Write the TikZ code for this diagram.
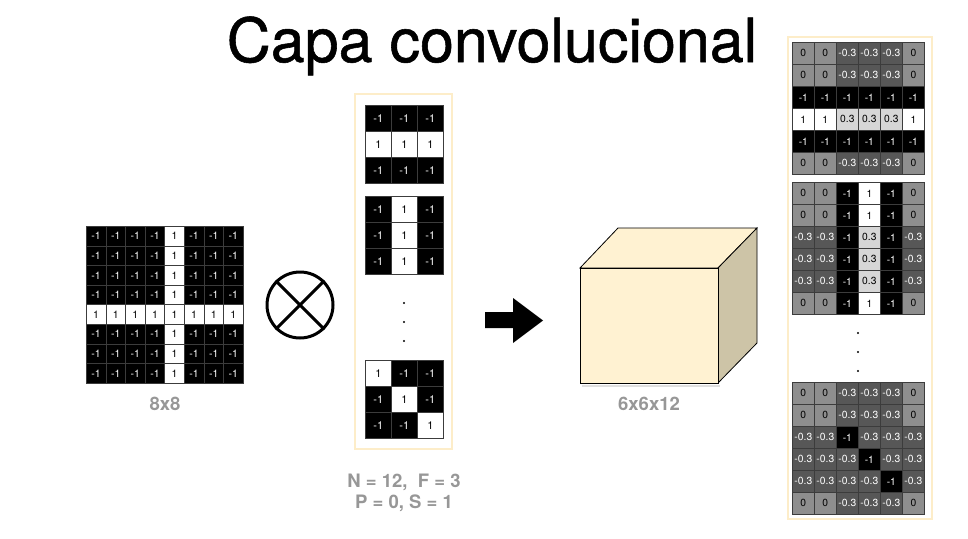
\documentclass[tikz,border=0pt]{standalone}
\usepackage{fontspec}
\setmainfont{TeX Gyre Heros}
\newfontfamily\titlefont[FakeBold=0.9]{TeX Gyre Heros}
\definecolor{boxc}{HTML}{FDEDC9}
\definecolor{gz}{HTML}{8E8E8E}
\definecolor{gm}{HTML}{575757}
\definecolor{gl}{HTML}{D6D6D6}
\definecolor{cubefront}{HTML}{FFF2D2}
\definecolor{cubeside}{HTML}{CDC4A7}
\definecolor{lblgray}{HTML}{979797}
\definecolor{gridline}{HTML}{3C3C3C}
\def\labk{-1}\def\labw{1}\def\labz{0}\def\labm{-0.3}\def\labl{0.3}
\tikzset{
  cellk/.style={fill=black,text=white},
  cellw/.style={fill=white,text=black},
  cellz/.style={fill=gz,text=black},
  cellm/.style={fill=gm,text=white},
  celll/.style={fill=gl,text=black},
  cellbase/.style={draw=gridline,line width=0.7pt,inner sep=0pt,anchor=north west},
  holder/.style={draw=boxc,line width=2.5pt},
  lbl/.style={text=lblgray,font=\fontsize{18.5}{22}\selectfont\bfseries},
  dotmark/.style={fill=black,draw=none,circle,inner sep=0pt,minimum size=2.4pt},
}
\newcommand\mygrid[6]{%
  \foreach \row [count=\r from 0] in {#6} {%
    \foreach \v [count=\c from 0] in \row {%
      \node[cellbase,cell\v,minimum width=#4pt,minimum height=#4pt,
            font=\fontsize{#5}{#5}\selectfont] (#1-\r-\c) at ({#2+\c*#4},{#3+\r*#4}) {\csname lab\v\endcsname};
    }%
  }%
}
\begin{document}
\begin{tikzpicture}[x=1pt,y=-1pt]
\useasboundingbox[fill=white] (0,0) rectangle (968,538);
% title
\node[anchor=base,font=\fontsize{61}{61}\titlefont] (title) at (492,62) {Capa convolucional};
% input 8x8
\mygrid{in}{86}{226}{19.6}{10.5}{{k,k,k,k,w,k,k,k},{k,k,k,k,w,k,k,k},{k,k,k,k,w,k,k,k},{k,k,k,k,w,k,k,k},{w,w,w,w,w,w,w,w},{k,k,k,k,w,k,k,k},{k,k,k,k,w,k,k,k},{k,k,k,k,w,k,k,k}}
\node[lbl] (inlbl) at (165,404) {8x8};
% otimes
\node[draw,circle,line width=3pt,minimum size=66pt,inner sep=0pt] (otimes) at (300,305) {};
\draw[line width=3pt] (otimes.north west) -- (otimes.south east);
\draw[line width=3pt] (otimes.north east) -- (otimes.south west);
% filters
\draw[holder] (355,94) rectangle (452,449);
\mygrid{fa}{365}{105}{26}{11}{{k,k,k},{w,w,w},{k,k,k}}
\mygrid{fb}{365}{196}{26}{11}{{k,w,k},{k,w,k},{k,w,k}}
\mygrid{fc}{365}{360}{26}{11}{{w,k,k},{k,w,k},{k,k,w}}
\node[dotmark] (fd1) at (404,303) {};
\node[dotmark] (fd2) at (404,322) {};
\node[dotmark] (fd3) at (404,341) {};
\node[lbl,align=center] (params) at (404,493) {N = 12,\ \ F = 3\\[-1pt]P = 0, S = 1};
% arrow
\fill[black] (485,312) -- (513,312) -- (513,298) -- (543,320.5) -- (513,343) -- (513,328) -- (485,328) -- cycle;
% cube
\fill[gray!25] (582,385) rectangle (720,387);
\draw[fill=cubefront,line width=0.8pt] (580,268) -- (618,228) -- (757,228) -- (718,268) -- cycle;
\draw[fill=cubeside,line width=0.8pt] (718,268) -- (757,228) -- (757,343) -- (718,383) -- cycle;
\draw[fill=cubefront,line width=0.8pt] (580,268) rectangle (718,383);
\node[lbl] (cubelbl) at (649,404) {6x6x12};
% outputs
\draw[holder] (788,37) rectangle (932,519);
\mygrid{oa}{792}{42}{22}{10.3}{{z,z,m,m,m,z},{z,z,m,m,m,z},{k,k,k,k,k,k},{w,w,l,l,l,w},{k,k,k,k,k,k},{z,z,m,m,m,z}}
\mygrid{ob}{792}{182}{22}{10.3}{{z,z,k,w,k,z},{z,z,k,w,k,z},{m,m,k,l,k,m},{m,m,k,l,k,m},{m,m,k,l,k,m},{z,z,k,w,k,z}}
\mygrid{oc}{792}{382}{22}{10.3}{{z,z,m,m,m,z},{z,z,m,m,m,z},{m,m,k,m,m,m},{m,m,m,k,m,m},{m,m,m,m,k,m},{z,z,m,m,m,z}}
\node[dotmark] (od1) at (858,333) {};
\node[dotmark] (od2) at (858,352) {};
\node[dotmark] (od3) at (858,371) {};
\end{tikzpicture}
\end{document}
